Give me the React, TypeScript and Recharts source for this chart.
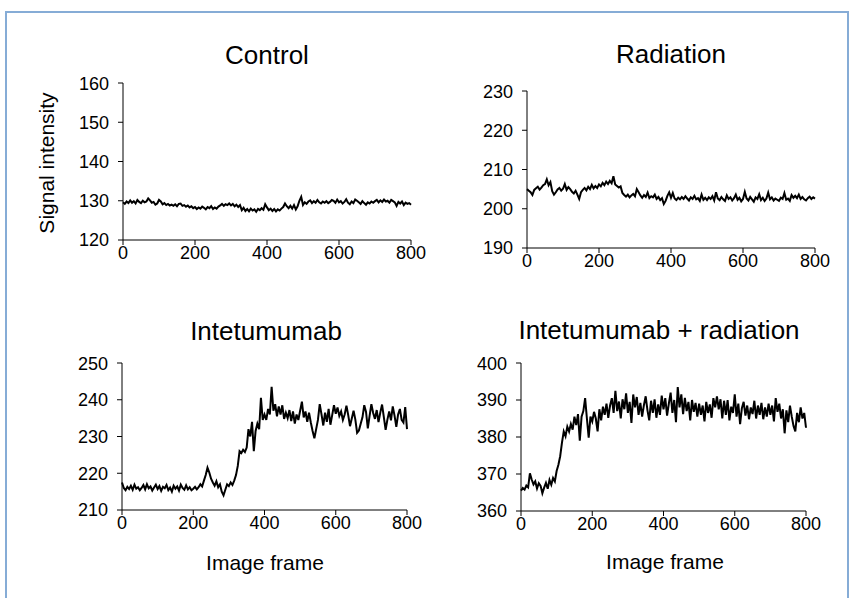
import { LineChart, Line, XAxis, YAxis } from "recharts";

// signal intensity, sampled every 5 image frames (0..800)
const controlValues = [
  129.6, 129.2, 129.8, 129.4, 130.1, 129.5, 129.9, 129.3, 130.2, 129.7, 129.4, 130.0, 129.6, 129.8, 130.6, 130.1, 129.5, 129.7, 129.0, 129.3,
  130.2, 129.8, 129.1, 129.4, 128.9, 129.2, 128.8, 129.0, 128.7, 129.1, 128.6, 129.2, 129.3, 128.7, 128.9, 128.5, 128.8, 128.3, 128.6, 128.1,
  128.4, 127.9, 128.3, 128.0, 128.5, 128.2, 127.8, 128.4, 128.1, 128.6, 127.9, 128.3, 128.0, 128.5, 128.8, 129.2, 128.7, 129.1, 128.9, 129.3,
  128.8, 129.2, 128.6, 129.0, 128.4, 128.9, 127.6, 128.2, 127.4, 127.9, 127.3, 128.0, 127.5, 127.8, 127.2, 127.9, 127.6, 128.1, 127.7, 129.1,
  128.3, 127.6, 128.0, 127.4, 127.9, 127.3, 127.8, 127.5, 128.0, 128.4, 129.3, 128.6, 128.1, 128.7, 128.0, 128.9, 127.8, 128.6, 130.0, 131.0,
  128.9, 129.6, 129.2, 129.8, 130.1, 129.4, 129.9, 129.5, 130.2, 129.6, 129.3, 129.8, 129.5, 129.9, 129.4, 129.7, 130.2, 130.0, 129.5, 130.3,
  129.6, 129.9, 129.3, 129.7, 130.4, 129.5, 129.1, 129.8, 129.4, 130.3, 130.0, 129.6, 129.2, 129.9, 129.4, 129.0, 129.6, 129.3, 129.8, 129.5,
  129.9, 130.2, 129.6, 130.1, 129.7, 130.3, 129.8, 130.0, 129.5, 130.2, 129.9, 129.6, 128.7, 129.7, 129.3, 129.8, 128.9, 129.5, 129.2, 129.4,
  129.0,
];

const radiationValues = [
  205.0, 204.6, 204.2, 203.5, 204.8, 205.2, 205.6, 204.9, 205.4, 206.0, 206.3, 207.5, 206.0, 206.8, 204.5, 203.6, 204.2, 204.9, 205.3, 204.6,
  205.1, 206.3, 204.8, 205.5, 205.0, 204.3, 203.9, 204.6, 203.6, 202.5, 204.2, 204.8, 205.3, 204.7, 205.6, 205.0, 206.1, 205.2, 205.8, 205.3,
  206.2, 205.7, 206.6, 206.0, 206.9, 206.3, 207.1, 206.5, 208.3, 206.2, 205.8, 205.4, 205.7, 204.0, 203.5, 203.1, 203.6, 202.9, 203.4, 203.8,
  203.2, 205.0, 204.2, 203.4, 202.8, 203.5, 203.0, 204.1, 202.7, 203.2, 202.9, 203.6, 202.5, 203.0, 202.2, 202.7, 201.2, 202.0, 203.3, 204.2,
  202.8, 204.0, 202.6, 202.2, 202.8, 202.4, 203.0, 202.5, 203.2, 202.6, 202.1, 202.9, 202.5, 203.3, 202.4, 202.7, 202.0, 203.6, 202.3, 202.8,
  202.2, 202.9, 202.5, 203.2, 202.1, 204.2, 202.6, 202.2, 203.0, 202.4, 202.0, 203.4, 202.5, 202.9, 202.1, 202.7, 203.6, 202.3, 202.8, 201.9,
  202.5, 204.3, 202.6, 202.1, 203.0, 202.4, 201.8, 202.9, 202.5, 203.7, 202.2, 202.8, 202.0, 202.6, 204.1, 202.4, 202.9, 202.1, 202.6, 202.3,
  202.0, 202.8, 202.5, 204.0, 202.3, 202.6, 202.0, 203.5, 202.8, 203.3, 202.7, 203.6, 202.5, 203.0, 202.4, 202.1, 202.7, 203.1, 202.5, 202.9,
  202.6,
];

const intetumumabValues = [
  217.5, 216.0, 215.4, 216.3, 215.7, 216.6, 215.5, 216.9, 215.8, 216.2, 215.4, 216.0, 216.8, 215.6, 217.0, 215.9, 216.4, 215.3, 216.1, 216.9,
  215.7, 216.5, 215.2, 216.3, 215.9, 216.8, 215.4, 216.1, 215.0, 216.6, 215.8, 216.4, 215.3, 216.9, 216.0, 215.5, 216.7, 215.6, 216.2, 215.4,
  215.8, 216.3, 215.6, 216.2, 217.0, 216.4, 218.0, 219.5, 221.5, 220.2, 218.5, 217.5, 216.6, 217.8, 216.2, 217.0, 215.0, 214.0, 215.5, 217.0,
  216.5, 217.5, 216.8, 218.0, 219.5, 222.0, 226.0, 225.5, 226.4, 225.8, 227.0, 232.0, 230.0, 234.0, 226.0, 231.5, 233.5, 232.0, 240.5, 234.5,
  236.0, 234.5, 237.5, 236.0, 243.5, 237.0, 238.8, 235.5, 238.2, 236.0, 238.5, 234.8, 236.5, 235.0, 237.2, 234.2, 236.8, 233.5, 236.0, 234.5,
  237.0, 239.5, 235.2, 236.8, 234.0, 236.5, 233.8, 231.5, 229.5, 232.0, 234.5, 238.8, 236.0, 233.0, 236.5, 234.0, 237.5, 233.2, 235.8, 238.5,
  236.2, 237.9, 235.6, 236.8, 234.5, 236.0, 238.4, 235.8, 232.8, 234.9, 237.0, 234.6, 231.0, 231.6, 233.5, 235.2, 238.5, 236.7, 232.2, 235.6,
  238.8, 236.4, 234.8, 237.2, 233.9, 236.5, 238.7, 235.3, 231.8, 234.6, 236.8, 234.4, 238.2, 235.7, 232.6, 236.0, 237.5, 234.5, 233.8, 238.0,
  232.0,
];

const comboValues = [
  365.5, 366.2, 365.8, 366.9, 366.4, 370.2, 368.5, 367.2, 368.0, 366.1, 367.5, 366.8, 364.8, 366.3, 367.6, 366.0, 368.4, 367.1, 368.9, 368.0,
  370.8, 372.5, 374.8, 378.5, 381.5, 380.2, 382.8, 381.5, 383.5, 382.0, 385.5, 383.2, 386.2, 379.0, 385.5, 387.0, 390.5, 385.0, 379.8, 385.5,
  384.2, 386.8, 385.0, 381.5, 387.5, 384.5, 388.2, 386.0, 389.0, 385.2, 388.5, 390.5, 386.5, 392.5, 387.0, 389.6, 385.0, 390.2, 387.5, 391.8,
  386.5, 389.5, 383.8, 391.5, 388.0, 390.8, 386.0, 389.2, 385.5, 388.6, 391.0, 387.2, 384.5, 389.8, 386.5, 390.2, 385.2, 388.8, 386.0, 391.2,
  387.5, 390.5, 385.8, 389.0, 392.0, 386.5, 390.0, 384.0, 393.5, 388.0, 391.5, 386.2, 390.6, 387.0, 389.5, 384.5, 390.0, 386.8, 389.2, 385.5,
  389.0, 386.0, 388.5, 384.2, 389.5, 386.5, 388.8, 385.2, 390.5, 388.0, 391.0, 387.5, 390.2, 385.0, 389.8, 386.0, 390.0, 384.5, 388.2, 386.5,
  391.5, 385.5, 389.0, 383.5, 387.8, 389.5, 385.8, 388.5, 384.8, 388.0, 386.2, 389.8, 385.0, 388.5, 386.0, 389.2, 384.8, 388.0, 385.5, 389.0,
  386.0, 388.5, 384.2, 390.5, 386.8, 389.0, 385.0, 387.5, 381.0, 387.2, 384.0, 388.5, 385.5, 383.0, 381.5, 386.5, 384.0, 388.0, 385.0, 386.5,
  382.5,
];

const frameTicks = [0, 200, 400, 600, 800];
const controlTicks = [120, 130, 140, 150, 160];
const radiationTicks = [190, 200, 210, 220, 230];
const intetumumabTicks = [210, 220, 230, 240, 250];
const comboTicks = [360, 370, 380, 390, 400];

const FONT = '"Liberation Sans", Arial, sans-serif';

const toRows = (values: number[]) => values.map((v, i) => ({ frame: i * 5, value: v }));

interface PanelProps {
  values: number[];
  yTicks: number[];
  plotLeft: number;
  plotTop: number;
  plotW: number;
  plotH: number;
}

const Panel = ({ values, yTicks, plotLeft, plotTop, plotW, plotH }: PanelProps) => {
  const tickStyle = { fill: "#000", fontSize: 18, fontFamily: FONT };
  return (
    <div style={{ position: "absolute", left: plotLeft - 60, top: plotTop - 10 }}>
      <LineChart
        width={plotW + 80}
        height={plotH + 40}
        data={toRows(values)}
        margin={{ top: 10, right: 20, left: 0, bottom: 0 }}
      >
        <XAxis
          dataKey="frame"
          type="number"
          domain={[0, 800]}
          ticks={frameTicks}
          height={30}
          stroke="#000"
          tickSize={5}
          tickMargin={1}
          tick={tickStyle}
        />
        <YAxis
          type="number"
          domain={[yTicks[0], yTicks[yTicks.length - 1]]}
          ticks={yTicks}
          width={60}
          stroke="#000"
          tickSize={5}
          tickMargin={9}
          tick={tickStyle}
        />
        <Line
          dataKey="value"
          stroke="#000"
          strokeWidth={2}
          dot={false}
          isAnimationActive={false}
        />
      </LineChart>
    </div>
  );
};

const Label = ({ text, x, y, size, rotate }: { text: string; x: number; y: number; size: number; rotate?: boolean }) => (
  <div
    style={{
      position: "absolute",
      left: x,
      top: y,
      transform: `translate(-50%, -50%)${rotate ? " rotate(-90deg)" : ""}`,
      fontFamily: FONT,
      fontSize: size,
      whiteSpace: "nowrap",
      color: "#000",
      lineHeight: 1,
    }}
  >
    {text}
  </div>
);

export default function App() {
  return (
    <div style={{ position: "absolute", left: 0, top: 0, width: 851, height: 598, background: "#fff", overflow: "hidden" }}>
      <div
        style={{
          position: "absolute",
          left: 5,
          top: 11,
          width: 840,
          height: 620,
          border: "2px solid #86acd6",
        }}
      />
      <Label text="Control" x={267} y={55} size={26} />
      <Label text="Radiation" x={671} y={54} size={26} />
      <Label text="Intetumumab" x={266} y={331} size={26} />
      <Label text="Intetumumab + radiation" x={659} y={330} size={26} />
      <Label text="Signal intensity" x={46} y={163} size={21} rotate />
      <Label text="Image frame" x={265} y={562} size={21} />
      <Label text="Image frame" x={665} y={561} size={21} />

      <Panel values={controlValues} yTicks={controlTicks} plotLeft={123} plotTop={83} plotW={288} plotH={157} />
      <Panel values={radiationValues} yTicks={radiationTicks} plotLeft={527} plotTop={91} plotW={288} plotH={157} />
      <Panel values={intetumumabValues} yTicks={intetumumabTicks} plotLeft={122} plotTop={363} plotW={285} plotH={147} />
      <Panel values={comboValues} yTicks={comboTicks} plotLeft={521} plotTop={363} plotW={285} plotH={148} />
    </div>
  );
}
